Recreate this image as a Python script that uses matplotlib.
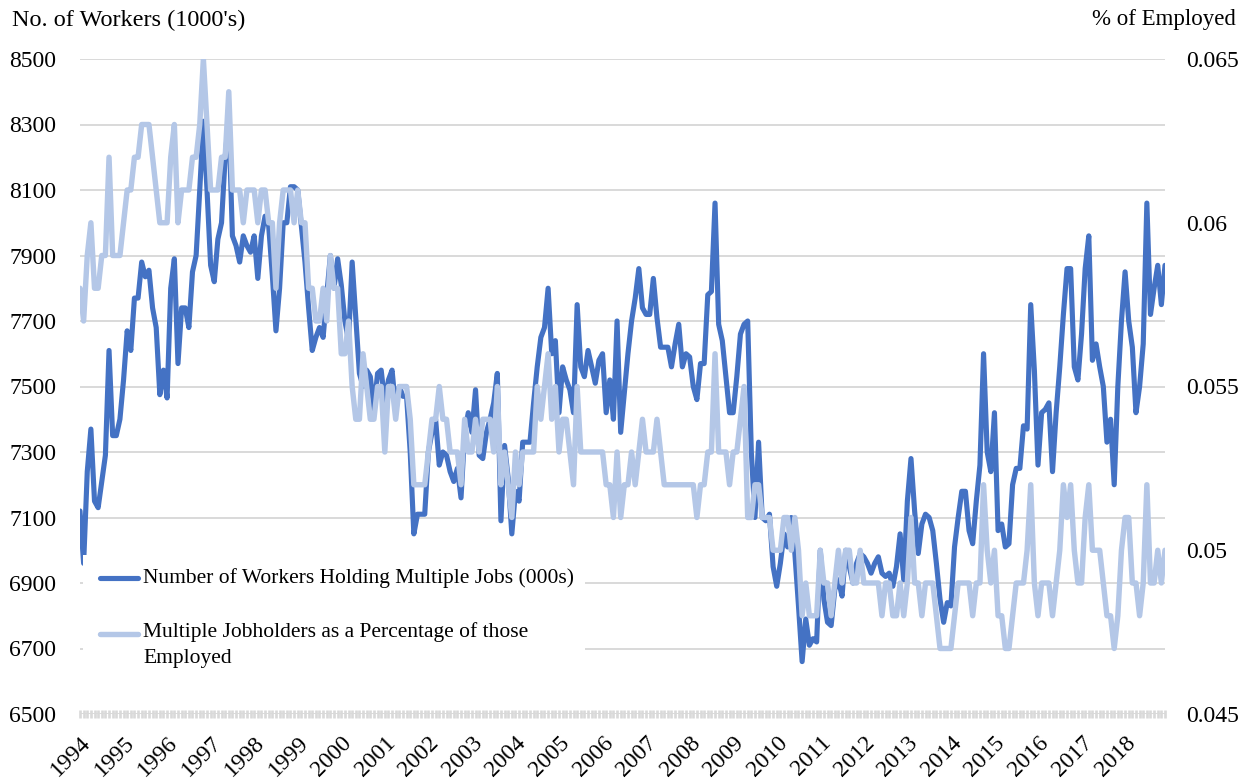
import numpy as np
import matplotlib
matplotlib.use("Agg")
import matplotlib.pyplot as plt
from matplotlib.lines import Line2D
from matplotlib.patches import Rectangle

plt.rcParams["font.family"] = ["Liberation Serif", "DejaVu Serif"]

# monthly, Jan 1994 - Dec 2018 (one row per year)
workers = [
    7120, 6960, 7240, 7370, 7150, 7130, 7210, 7290, 7610, 7350, 7350, 7400,
    7520, 7670, 7610, 7770, 7770, 7880, 7835, 7855, 7740, 7680, 7475, 7550,
    7465, 7800, 7890, 7570, 7740, 7740, 7680, 7850, 7900, 8100, 8310, 8100,
    7870, 7820, 7950, 8000, 8200, 8320, 7960, 7930, 7880, 7960, 7930, 7910,
    7960, 7830, 7960, 8020, 7990, 7840, 7670, 7800, 8000, 8000, 8110, 8110,
    8100, 7990, 7880, 7740, 7610, 7650, 7680, 7650, 7780, 7900, 7800, 7890,
    7810, 7700, 7640, 7880, 7710, 7540, 7500, 7550, 7530, 7430, 7540, 7550,
    7450, 7520, 7550, 7430, 7500, 7470, 7470, 7300, 7050, 7110, 7110, 7110,
    7300, 7360, 7400, 7260, 7300, 7290, 7240, 7210, 7250, 7160, 7360, 7420,
    7360, 7490, 7290, 7280, 7360, 7400, 7450, 7540, 7090, 7320, 7220, 7050,
    7180, 7150, 7330, 7330, 7330, 7450, 7560, 7650, 7680, 7800, 7600, 7640,
    7420, 7560, 7520, 7490, 7420, 7750, 7560, 7530, 7610, 7560, 7510, 7580,
    7600, 7420, 7520, 7400, 7700, 7360, 7480, 7600, 7700, 7770, 7860, 7740,
    7720, 7720, 7830, 7710, 7620, 7620, 7620, 7560, 7630, 7690, 7560, 7600,
    7590, 7500, 7460, 7570, 7570, 7780, 7790, 8060, 7690, 7640, 7530, 7420,
    7420, 7530, 7660, 7690, 7700, 7300, 7100, 7330, 7100, 7090, 7110, 6950,
    6890, 6960, 7050, 7010, 7100, 6990, 6830, 6660, 6790, 6710, 6730, 6720,
    7000, 6850, 6780, 6770, 6880, 6910, 6860, 7000, 6950, 6900, 6960, 6990,
    6980, 6960, 6930, 6960, 6980, 6930, 6920, 6930, 6890, 6950, 7050, 6910,
    7150, 7280, 7120, 6990, 7080, 7110, 7100, 7060, 6960, 6850, 6780, 6840,
    6830, 7010, 7100, 7180, 7180, 7060, 7020, 7150, 7260, 7600, 7300, 7240,
    7420, 7060, 7080, 7010, 7020, 7200, 7250, 7250, 7380, 7370, 7750, 7550,
    7260, 7420, 7430, 7450, 7240, 7420, 7560, 7720, 7860, 7860, 7560, 7520,
    7660, 7860, 7960, 7580, 7630, 7560, 7500, 7330, 7400, 7200, 7500, 7700,
    7850, 7700, 7620, 7420, 7500, 7630, 8060, 7720, 7800, 7870, 7750, 7870,
]

pct_employed = [
    0.058, 0.057, 0.059, 0.060, 0.058, 0.058, 0.059, 0.059, 0.062, 0.059, 0.059, 0.059,
    0.060, 0.061, 0.061, 0.062, 0.062, 0.063, 0.063, 0.063, 0.062, 0.061, 0.060, 0.060,
    0.060, 0.062, 0.063, 0.060, 0.061, 0.061, 0.061, 0.062, 0.062, 0.063, 0.065, 0.063,
    0.061, 0.061, 0.061, 0.062, 0.062, 0.064, 0.061, 0.061, 0.061, 0.060, 0.061, 0.061,
    0.061, 0.060, 0.061, 0.061, 0.060, 0.060, 0.058, 0.060, 0.061, 0.061, 0.061, 0.060,
    0.061, 0.060, 0.060, 0.058, 0.058, 0.057, 0.057, 0.058, 0.057, 0.059, 0.058, 0.058,
    0.056, 0.056, 0.057, 0.055, 0.054, 0.054, 0.056, 0.055, 0.054, 0.054, 0.055, 0.055,
    0.053, 0.055, 0.055, 0.054, 0.055, 0.055, 0.055, 0.054, 0.052, 0.052, 0.052, 0.052,
    0.053, 0.054, 0.054, 0.055, 0.054, 0.054, 0.053, 0.053, 0.053, 0.052, 0.054, 0.053,
    0.053, 0.054, 0.053, 0.054, 0.054, 0.054, 0.053, 0.055, 0.052, 0.053, 0.052, 0.051,
    0.053, 0.052, 0.053, 0.053, 0.053, 0.053, 0.055, 0.054, 0.055, 0.056, 0.054, 0.055,
    0.053, 0.054, 0.054, 0.053, 0.052, 0.055, 0.053, 0.053, 0.053, 0.053, 0.053, 0.053,
    0.053, 0.052, 0.052, 0.051, 0.053, 0.051, 0.052, 0.052, 0.053, 0.052, 0.053, 0.054,
    0.053, 0.053, 0.053, 0.054, 0.053, 0.052, 0.052, 0.052, 0.052, 0.052, 0.052, 0.052,
    0.052, 0.052, 0.051, 0.052, 0.052, 0.053, 0.053, 0.056, 0.053, 0.053, 0.053, 0.052,
    0.053, 0.053, 0.054, 0.055, 0.051, 0.051, 0.052, 0.052, 0.051, 0.051, 0.051, 0.050,
    0.050, 0.050, 0.051, 0.051, 0.050, 0.051, 0.050, 0.048, 0.049, 0.048, 0.048, 0.048,
    0.050, 0.049, 0.049, 0.048, 0.049, 0.050, 0.049, 0.050, 0.050, 0.049, 0.049, 0.050,
    0.049, 0.049, 0.049, 0.049, 0.049, 0.048, 0.049, 0.049, 0.048, 0.048, 0.049, 0.048,
    0.049, 0.051, 0.049, 0.049, 0.048, 0.049, 0.049, 0.049, 0.048, 0.047, 0.047, 0.047,
    0.047, 0.048, 0.049, 0.049, 0.049, 0.049, 0.048, 0.049, 0.049, 0.052, 0.050, 0.049,
    0.050, 0.048, 0.048, 0.047, 0.047, 0.048, 0.049, 0.049, 0.049, 0.050, 0.052, 0.049,
    0.048, 0.049, 0.049, 0.049, 0.048, 0.049, 0.050, 0.052, 0.051, 0.052, 0.050, 0.049,
    0.049, 0.051, 0.052, 0.050, 0.050, 0.050, 0.049, 0.048, 0.048, 0.047, 0.048, 0.050,
    0.051, 0.051, 0.049, 0.049, 0.048, 0.049, 0.052, 0.049, 0.049, 0.050, 0.049, 0.050,
]

years = list(range(1994, 2019))
left_ticks = [6500, 6700, 6900, 7100, 7300, 7500, 7700, 7900, 8100, 8300, 8500]
right_ticks = [0.045, 0.05, 0.055, 0.06, 0.065]
right_labels = ["0.045", "0.05", "0.055", "0.06", "0.065"]

labels = ["Number of Workers Holding Multiple Jobs (000s)",
          "Multiple Jobholders as a Percentage of those\nEmployed"]

DARK = "#4472c4"
LIGHT = "#b4c7e7"
GRID = "#d9d9d9"
W, H = 1250, 778


def fx(px):
    return px / W


def fy(py):
    return 1 - py / H


fig = plt.figure(figsize=(12.5, 7.78), dpi=100)
ax = fig.add_axes([fx(80), fy(714), fx(1165) - fx(80), fy(59) - fy(714)])
ax2 = ax.twinx()

months = np.arange(len(workers))
ax.plot(months, workers, color=DARK, lw=3.7, solid_joinstyle="round", solid_capstyle="round")
ax2.plot(months, pct_employed, color=LIGHT, lw=3.9, solid_joinstyle="round", solid_capstyle="round")

ax.set_xlim(0, len(workers) - 1)
ax.set_ylim(6500, 8500)
ax2.set_ylim(0.045, 0.065)

ax.set_yticks(left_ticks)
ax.set_yticklabels([str(t) for t in left_ticks])
ax2.set_yticks(right_ticks)
ax2.set_yticklabels(right_labels)
ax.yaxis.grid(True, color=GRID, lw=1.4)
ax.set_axisbelow(True)

# month ticks along the bottom, a label every January
ax.set_xticks(months, minor=True)
ax.set_xticks([12 * i for i in range(len(years))])
ax.set_xticklabels([str(y) for y in years], rotation=45, ha="right", va="top",
                   rotation_mode="anchor")
ax.tick_params(axis="x", which="both", length=6, width=1.9, color=GRID, direction="inout")
ax.tick_params(axis="x", which="major", labelsize=17, pad=10)
ax.tick_params(axis="y", length=0, labelsize=17, pad=17)
ax2.tick_params(axis="y", length=0, labelsize=17, pad=15)

for a in (ax, ax2):
    for s in a.spines.values():
        s.set_visible(False)

fig.text(fx(12), fy(20), "No. of Workers (1000's)", fontsize=17.5, ha="left", va="center")
fig.text(fx(1236), fy(20), "% of Employed", fontsize=16.5, ha="right", va="center")

# legend, drawn over the plot like Excel does
fig.add_artist(Rectangle((fx(83), fy(680)), fx(585) - fx(83), fy(555) - fy(680),
                         transform=fig.transFigure, facecolor="white", edgecolor="none", zorder=5))
fig.add_artist(Line2D([fx(100), fx(138)], [fy(578), fy(578)], transform=fig.transFigure,
                      color=DARK, lw=3.7, solid_capstyle="round", zorder=6))
fig.add_artist(Line2D([fx(100), fx(138)], [fy(634), fy(634)], transform=fig.transFigure,
                      color=LIGHT, lw=3.9, solid_capstyle="round", zorder=6))
fig.text(fx(143), fy(578), labels[0], fontsize=15.5, ha="left", va="center", zorder=7)
fig.text(fx(143), fy(622), labels[1], fontsize=15.5, ha="left", va="top",
         linespacing=1.5, zorder=7)

fig.savefig("out.png", dpi=100)
